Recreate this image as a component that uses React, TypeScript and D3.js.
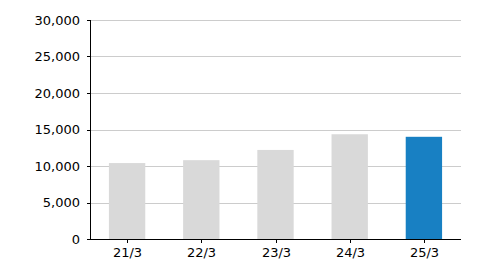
import React from "react";
import * as d3 from "d3";

const categories = ["21/3", "22/3", "23/3", "24/3", "25/3"];
const values = [10400, 10800, 12200, 14350, 14000];
const yTicks = [0, 5000, 10000, 15000, 20000, 25000, 30000];

export default function App() {
  const W = 480, H = 269;
  const left = 90, right = 461, top = 20, bottom = 239;
  const x = d3.scaleBand<string>().domain(categories).range([left, right]).paddingInner(0.51).paddingOuter(0.255);
  const y = d3.scaleLinear().domain([0, 30000]).range([bottom, top]);
  const fmt = d3.format(",");
  const font = "Verdana, 'DejaVu Sans', sans-serif";
  return (
    <svg width={W} height={H} style={{ position: "absolute", left: 0, top: 0 }}>
      <rect width={W} height={H} fill="#fff" />
      {yTicks.filter((t) => t > 0).map((t) => (
        <line key={t} x1={left} x2={right} y1={Math.round(y(t)) + 0.5} y2={Math.round(y(t)) + 0.5} stroke="#cccccc" />
      ))}
      {categories.map((c, i) => (
        <rect
          key={c}
          x={x(c)}
          y={y(values[i])}
          width={x.bandwidth()}
          height={bottom - y(values[i])}
          fill={i === categories.length - 1 ? "#1880c3" : "#d9d9d9"}
        />
      ))}
      <line x1={left + 0.5} x2={left + 0.5} y1={top} y2={bottom + 1} stroke="#000" />
      <line x1={left} x2={right} y1={bottom + 0.5} y2={bottom + 0.5} stroke="#000" />
      {yTicks.map((t) => (
        <g key={t}>
          <line x1={left - 3} x2={left} y1={Math.round(y(t)) + 0.5} y2={Math.round(y(t)) + 0.5} stroke="#000" />
          <text x={80} y={y(t)} dy="0.35em" textAnchor="end" fontFamily={font} fontSize={13} fill="#000">
            {fmt(t)}
          </text>
        </g>
      ))}
      {categories.map((c) => {
        const cx = Math.round(x(c)! + x.bandwidth() / 2) + 0.5;
        return (
          <g key={c}>
            <line x1={cx} x2={cx} y1={bottom} y2={bottom + 4} stroke="#000" />
            <text x={cx} y={257} textAnchor="middle" fontFamily={font} fontSize={13} fill="#000">
              {c}
            </text>
          </g>
        );
      })}
    </svg>
  );
}
